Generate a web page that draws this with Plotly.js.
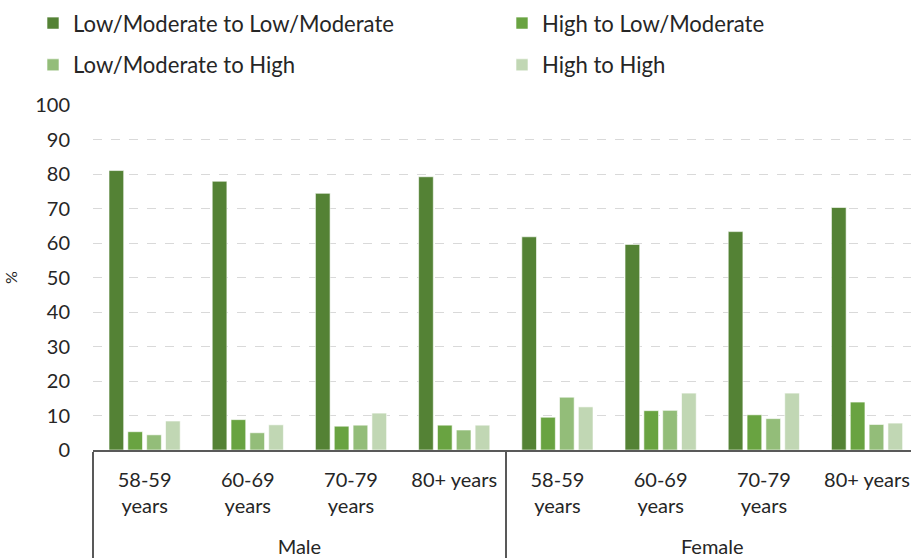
<!DOCTYPE html>
<html>
<head>
<meta charset="utf-8">
<script src="https://cdn.plot.ly/plotly-3.0.1.min.js"></script>
<style>html,body{margin:0;padding:0;background:#fff;}#chart{width:911px;height:559px;}</style>
</head>
<body>
<div id="chart"></div>
<script>
const sexes = ["Male","Male","Male","Male","Female","Female","Female","Female"];
const ageGroups = ["58-59<br>years","60-69<br>years","70-79<br>years","80+ years","58-59<br>years","60-69<br>years","70-79<br>years","80+ years"];
const seriesNames = ["Low/Moderate to Low/Moderate","High to Low/Moderate","Low/Moderate to High","High to High"];
const lowModToLowMod = [81.0, 77.9, 74.4, 79.2, 61.8, 59.6, 63.3, 70.3];
const highToLowMod   = [5.3, 8.8, 6.9, 7.2, 9.5, 11.4, 10.2, 13.9];
const lowModToHigh   = [4.4, 5.0, 7.2, 5.8, 15.3, 11.5, 9.1, 7.4];
const highToHigh     = [8.4, 7.3, 10.7, 7.2, 12.5, 16.5, 16.5, 7.8];
const colors = ["#548235","#69A341","#93BD79","#C1D7B4"];
const values = [lowModToLowMod, highToLowMod, lowModToHigh, highToHigh];
const legendOf = ["legend","legend2","legend","legend2"];

const font = "Lato, 'Open Sans', sans-serif";
const textColor = "#262626";

// pad the last line of the sub-category labels so the group row sits lower
const subLabels = ageGroups.map(s => s + "<br>\u00a0");

const traces = values.map((v, i) => ({
  type: "bar",
  name: seriesNames[i],
  legend: legendOf[i],
  legendgroup: "g" + i,
  x: [sexes, subLabels],
  y: v,
  marker: {color: colors[i], line: {color: "rgba(255,255,255,0.6)", width: 1}},
  hoverinfo: "skip"
}));

const legendBase = {
  orientation: "v",
  xref: "paper", yref: "container",
  xanchor: "left", yanchor: "top",
  y: 0.996,
  tracegroupgap: 10,
  font: {family: font, size: 22.1, color: textColor},
  bgcolor: "rgba(0,0,0,0)"
};

const layout = {
  width: 911, height: 559,
  margin: {l: 93, r: 0, t: 105, b: 109},
  paper_bgcolor: "#fff", plot_bgcolor: "#fff",
  font: {family: font, size: 20, color: textColor},
  barmode: "group",
  bargap: 0.27,
  bargroupgap: 0.22,
  showlegend: true,
  legend: Object.assign({}, legendBase, {x: (33 - 93) / 818}),
  legend2: Object.assign({}, legendBase, {x: (502 - 93) / 818}),
  xaxis: {
    type: "multicategory",
    range: [-0.5, 7.426],
    showline: true, linecolor: "#595959", linewidth: 1.5,
    showdividers: true, dividercolor: "#595959", dividerwidth: 1.5,
    tickfont: {family: font, size: 20, color: textColor},
    ticks: "",
    ticklabelstandoff: 11,
    tickangle: 0,
    showgrid: false, zeroline: false
  },
  yaxis: {
    range: [0, 100], dtick: 10, tick0: 0,
    showgrid: true, gridcolor: "#d9d9d9", griddash: "dash", gridwidth: 1,
    zeroline: false, showline: false,
    ticklabelstandoff: 22,
    tickfont: {family: font, size: 20, color: textColor},
    title: {text: "%", font: {family: font, size: 16, color: textColor}, standoff: 13}
  }
};

Plotly.newPlot("chart", traces, layout, {displayModeBar: false, staticPlot: true});
</script>
</body>
</html>
